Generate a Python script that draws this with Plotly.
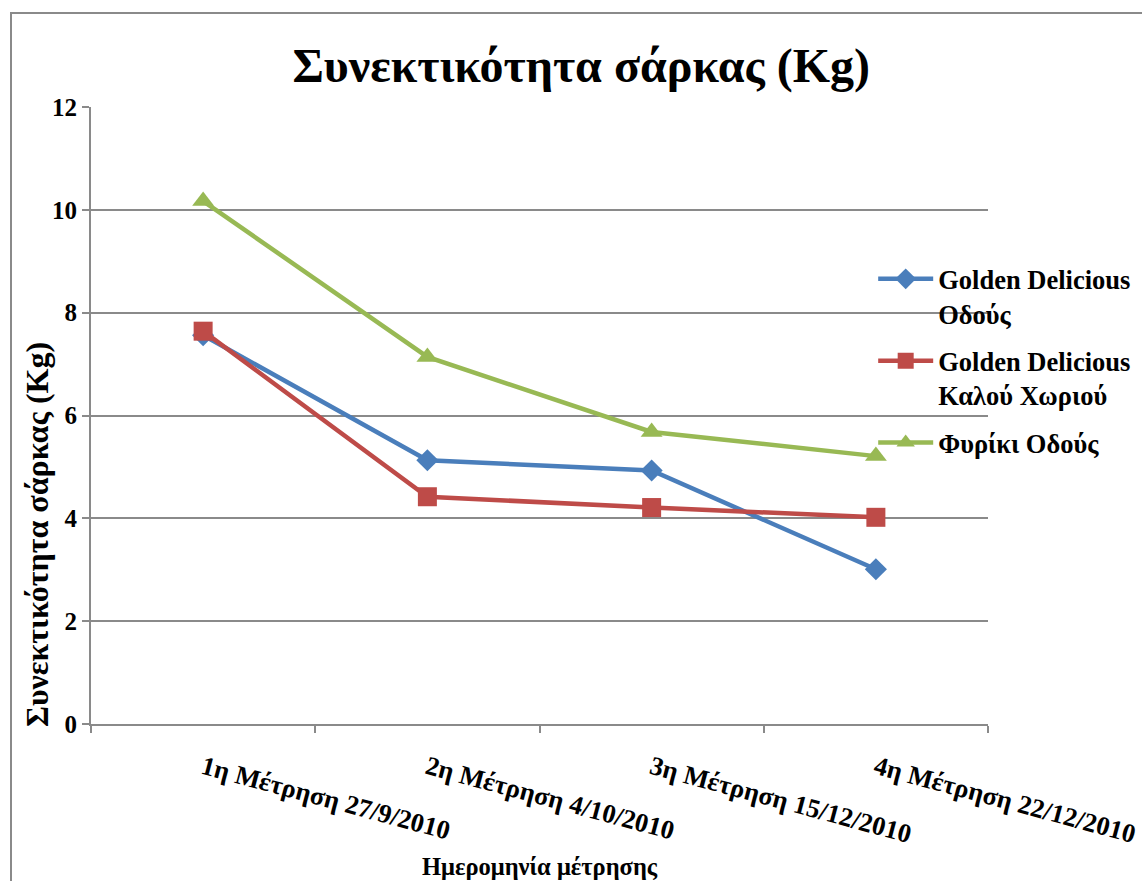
import plotly.graph_objects as go

# Measurement dates (x categories)
categories = [
    "1η Μέτρηση 27/9/2010",
    "2η Μέτρηση 4/10/2010",
    "3η Μέτρηση 15/12/2010",
    "4η Μέτρηση 22/12/2010",
]

# Flesh firmness (Kg) per sample
golden_odous = [7.56, 5.13, 4.93, 3.01]
golden_kalou = [7.64, 4.42, 4.21, 4.02]
fyriki_odous = [10.17, 7.14, 5.68, 5.21]

series_names = [
    "Golden Delicious<br>Οδούς",
    "Golden Delicious<br>Καλού Χωριού",
    "Φυρίκι Οδούς",
]

y_ticks = [0, 2, 4, 6, 8, 10, 12]

FONT = "Liberation Serif, Times New Roman, Times, serif"
GRID = "#8a8a8a"

fig = go.Figure()

styles = [
    (golden_odous, "#4a7ebb", "diamond", 17),
    (golden_kalou, "#be4b48", "square", 19),
    (fyriki_odous, "#98b954", "triangle-up", 19),
]

for i, (name, (vals, color, symbol, size)) in enumerate(zip(series_names, styles)):
    fig.add_trace(go.Scatter(
        x=categories,
        y=vals,
        name=f"<b>{name}</b>",
        legendgroup=f"g{i}",
        mode="lines+markers",
        line=dict(color=color, width=4.5),
        marker=dict(symbol=symbol, size=size, color=color),
    ))

fig.update_layout(
    width=1142,
    height=881,
    margin=dict(l=91, r=154, t=107, b=157, autoexpand=False),
    paper_bgcolor="white",
    plot_bgcolor="white",
    font=dict(family=FONT, color="black"),
    title=dict(
        text="<b>Συνεκτικότητα σάρκας (Kg)</b>",
        font=dict(family=FONT, size=48, color="black"),
        x=0.509, xref="container", xanchor="center",
        y=1 - 65 / 881, yref="container", yanchor="middle",
    ),
    legend=dict(
        x=0.872, y=0.76, xanchor="left", yanchor="top",
        bgcolor="rgba(0,0,0,0)",
        font=dict(family=FONT, size=26.5, color="black"),
        valign="top",
        itemwidth=55,
        tracegroupgap=10,
    ),
    showlegend=True,
)

fig.update_xaxes(
    type="category",
    range=[-0.5, 3.5],
    automargin=False,
    showgrid=False,
    showline=True, linecolor=GRID, linewidth=2,
    ticks="outside", tickson="boundaries", ticklen=7, tickcolor=GRID, tickwidth=2,
    tickangle=15,
    tickfont=dict(family=FONT, size=26.5, color="black"),
    ticklabelstandoff=16,
    tickprefix="<b>", ticksuffix="</b>",
)

fig.update_yaxes(
    range=[0, 12],
    automargin=False,
    tickvals=y_ticks,
    ticktext=[f"<b>{v}</b>" for v in y_ticks],
    showgrid=True, gridcolor=GRID, gridwidth=2,
    showline=True, linecolor=GRID, linewidth=2,
    ticks="outside", ticklen=7, tickcolor=GRID, tickwidth=2,
    tickfont=dict(family=FONT, size=25, color="black"),
    zeroline=False,
)

# Axis titles placed as annotations
fig.add_annotation(
    text="<b>Συνεκτικότητα σάρκας (Kg)</b>",
    xref="paper", yref="paper",
    x=(37 - 91) / 897, y=(724 - 535) / 617,
    showarrow=False, textangle=-90,
    font=dict(family=FONT, size=32, color="black"),
    xanchor="center", yanchor="middle",
)
fig.add_annotation(
    text="<b>Ημερομηνία μέτρησης</b>",
    xref="paper", yref="paper",
    x=0.5, y=(724 - 866) / 617,
    showarrow=False,
    font=dict(family=FONT, size=24.5, color="black"),
    xanchor="center", yanchor="middle",
)

# Chart frame
fig.add_shape(
    type="rect", xref="paper", yref="paper",
    x0=(11 - 91) / 897, x1=1.3, y0=-0.4, y1=(724 - 13) / 617,
    line=dict(color=GRID, width=2), fillcolor="rgba(0,0,0,0)",
    layer="below",
)

fig.write_html("out.html")
